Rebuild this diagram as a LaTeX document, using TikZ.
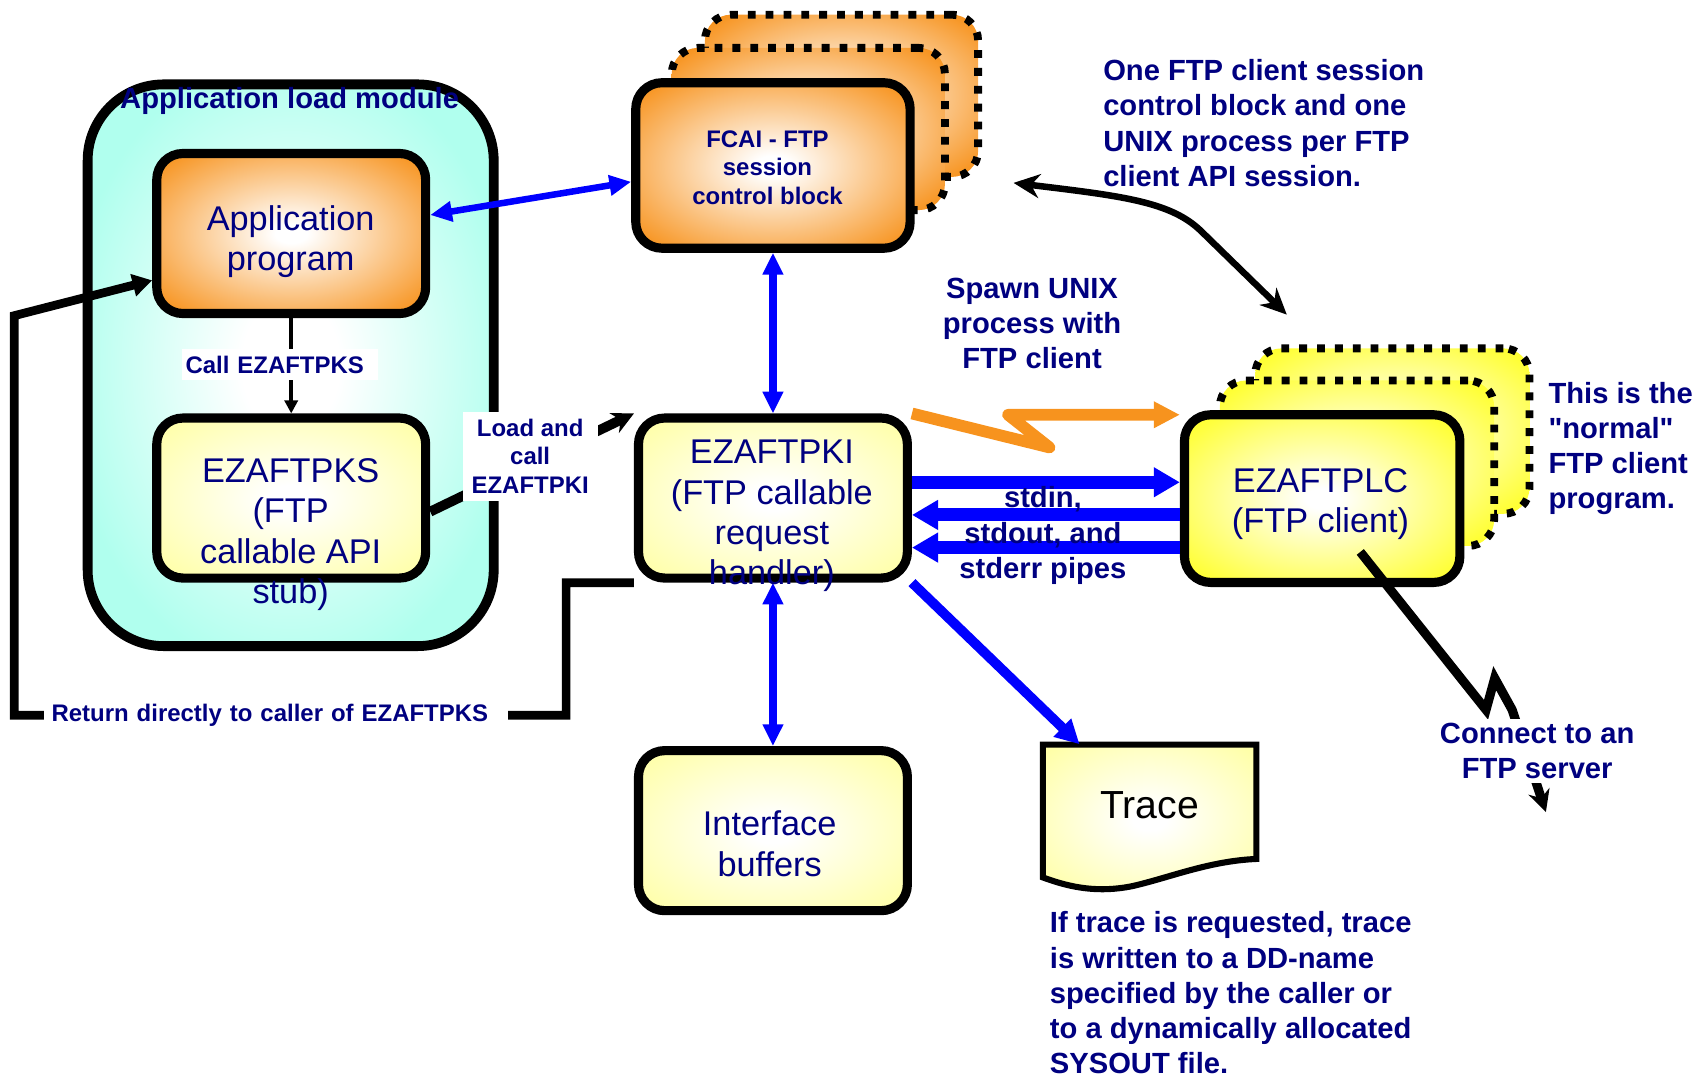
\documentclass[tikz,border=0pt]{standalone}
\usepackage{fontspec}
\setmainfont{Liberation Sans}[Ligatures=TeXOff]
\usetikzlibrary{arrows.meta,calc}
\definecolor{navy}{RGB}{0,0,128}
\definecolor{orgC}{RGB}{247,147,30}
\definecolor{aquaC}{RGB}{176,255,238}
\definecolor{lyelC}{RGB}{255,255,168}
\definecolor{byelC}{RGB}{255,255,51}
\pgfdeclareradialshading{orgshade}{\pgfpoint{0bp}{0bp}}{color(0bp)=(white); color(3bp)=(white); color(33bp)=(orgC); color(50bp)=(orgC)}
\pgfdeclareradialshading{aquashade}{\pgfpoint{0bp}{0bp}}{color(0bp)=(white); color(6bp)=(white); color(28bp)=(aquaC); color(50bp)=(aquaC)}
\pgfdeclareradialshading{lyshade}{\pgfpoint{0bp}{0bp}}{color(0bp)=(white); color(4bp)=(white); color(33bp)=(lyelC); color(50bp)=(lyelC)}
\pgfdeclareradialshading{byshade}{\pgfpoint{0bp}{0bp}}{color(0bp)=(white); color(3bp)=(white); color(32bp)=(byelC); color(50bp)=(byelC)}
\begin{document}
\begin{tikzpicture}[x=0.5pt,y=-0.5pt,
  box/.style={draw=black, line width=4.2pt, rounded corners=12pt, minimum width=123.5pt, minimum height=73.5pt, inner sep=0pt},
  ghost/.style={box, line width=3.6pt, dash pattern=on 3.6pt off 4.6pt},
  regtxt/.style={text=navy, font=\fontsize{15.75}{18.5}\selectfont, align=center, inner sep=0pt},
  bigbold/.style={text=navy, font=\bfseries\fontsize{13.4}{16.2}\selectfont, inner sep=0pt},
  smallbold/.style={text=navy, font=\bfseries\fontsize{11}{13}\selectfont},
  vblue/.style={draw=blue, line width=4pt, {Triangle[length=10pt,width=9pt]}-{Triangle[length=10pt,width=9pt]}},
  pipe/.style={draw=blue, line width=6pt, -{Triangle[length=12pt,width=13pt]}},
  blk/.style={draw=black, line width=4pt}
]
\useasboundingbox (0,0) rectangle (1568,989);

% ---- shapes ----
\node[draw=black, line width=4.5pt, rounded corners=35pt, minimum width=186.5pt, minimum height=258pt, inner sep=0pt, shading=aquashade] (module) at (267,335.5) {};
\node[box, shading=orgshade] (app) at (267.5,214.5) {};
\node[box, shading=lyshade] (pks) at (267.5,457.5) {};

\node[ghost, minimum width=125.5pt, minimum height=74.5pt, shading=orgshade] (fcai3) at (773,88) {};
\node[ghost, minimum width=125.5pt, minimum height=74.5pt, shading=orgshade] (fcai2) at (742.5,118.5) {};
\node[box, minimum width=126pt, minimum height=76pt, shading=orgshade] (fcai) at (710,152) {};

\node[box, shading=lyshade] (pki) at (710,457.5) {};
\node[box, shading=lyshade] (buf) at (710,763) {};

\node[ghost, minimum width=126pt, minimum height=76pt, shading=byshade] (plc3) at (1279,396) {};
\node[ghost, minimum width=126pt, minimum height=76pt, shading=byshade] (plc2) at (1246.5,425.5) {};
\node[box, minimum width=126.5pt, minimum height=77pt, shading=byshade] (plc) at (1214.5,458) {};

\node[minimum width=98pt, minimum height=62pt, inner sep=0pt] (trace) at (1056,746) {};
\path[draw=black, line width=2.8pt, shading=lyshade]
  (958,684) -- (1154,684) -- (1154,789)
  .. controls (1110,791) and (1075,806) .. (1040,814)
  .. controls (1010,820) and (985,816) .. (958,806) -- cycle;

% ---- connectors ----
\draw[draw=black, line width=1.8pt, -{Triangle[length=6pt,width=6pt]}] (app.south) -- (pks.north);
\draw[draw=blue, line width=3pt, {Triangle[length=10pt,width=9pt]}-{Triangle[length=10pt,width=9pt]}]
  ($(app.east)+(0,-17)$) -- ($(fcai.west)+(0,15)$);
\draw[vblue] (fcai.south) -- (pki.north);
\draw[vblue] (pki.south) -- (buf.north);
\draw[draw=blue, line width=4.5pt, -{Triangle[length=11pt,width=11pt]}] (pki.south east) -- ($(trace.north west)+(34,0)$);

\coordinate (p1) at ($(pki.east)+(0,-14.5)$);
\coordinate (p2) at ($(pki.east)+(0,15.5)$);
\coordinate (p3) at ($(pki.east)+(0,45.5)$);
\draw[pipe] (p1) -- (p1 -| plc.west);
\draw[pipe] (p2 -| plc.west) -- (p2);
\draw[pipe] (p3 -| plc.west) -- (p3);

\coordinate (zz1) at (964,411);
\coordinate (zz2) at (926,381);
\draw[draw=orgC, line width=5.4pt, line join=round, -{Triangle[length=12pt,width=11.5pt]}]
  (pki.north east) -- (zz1) -- (zz2) -- (zz2 -| plc.west);

\coordinate (c1) at (931,168);
\coordinate (c2) at (1182,289);
\draw[draw=black, line width=3pt, {Stealth[length=12pt,width=11pt]}-{Stealth[length=12pt,width=11pt]}]
  (c1) .. controls (1030,180) and (1075,185) .. (1103,212) -- (c2);

\coordinate (r2) at (520,657);
\coordinate (r3) at (13,657);
\coordinate (r4) at (13,290);
\draw[blk, -{Triangle[length=9pt,width=10pt]}] (pki.south west) -| (r2) -- (r3) -- (r4) -- ($(app.west)+(0,43)$);

\draw[draw=black, line width=4.5pt, -{Stealth[length=10pt,width=10pt]}] ($(pks.east)+(0,12.5)$) -- (pki.north west);

\coordinate (k0) at ($(plc.center)+(35,49)$);
\coordinate (k1) at (1365,652);
\coordinate (k2) at (1373,623);
\coordinate (k3) at (1389,652);
\coordinate (k4) at (1420,746);
\draw[draw=black, line width=4.2pt, -{Stealth[length=10pt,width=10pt]}] (k0) -- (k1) -- (k2) -- (k3) -- (k4);

% ---- texts ----
\node[bigbold] (tmodule) at (266,93) {Application load module};
\node[regtxt] (tapp) at (267,222) {Application\\program};
\node[regtxt] (tpks) at (267,491) {EZAFTPKS\\(FTP\\callable API\\stub)};
\node[smallbold, align=center, inner sep=0pt] (tfcai) at (705,154) {FCAI - FTP\\session\\control block};
\node[regtxt] (tpki) at (709,474) {EZAFTPKI\\(FTP callable\\request\\handler)};
\node[regtxt] (tbuf) at (707,775) {Interface\\buffers};
\node[regtxt] (tplc) at (1213,463) {EZAFTPLC\\(FTP client)};
\node[text=black, font=\fontsize{18}{21}\selectfont, inner sep=0pt] (ttrace) at (1056,740) {Trace};

\node[smallbold, fill=white, anchor=west, inner xsep=1.5pt, inner ysep=3pt, text width=87pt, align=left] (tcall) at (167,335) {Call EZAFTPKS};
\node[smallbold, fill=white, align=center, minimum width=62pt, minimum height=41pt, inner sep=0pt] (tload) at (487,419) {Load and\\call\\EZAFTPKI};
\node[smallbold, fill=white, anchor=west, inner xsep=3.5pt, inner ysep=2pt, text width=206pt, align=left] (tret) at (40,657) {Return directly to caller of EZAFTPKS};

\node[bigbold, align=center] (tspawn) at (948,297) {Spawn UNIX\\process with\\FTP client};
\node[bigbold, align=center] (tpipes) at (958,492) {stdin,\\stdout, and\\stderr pipes};
\node[bigbold, align=left, anchor=west] (tone) at (1013,113) {One FTP client session\\control block and one\\UNIX process per FTP\\client API session.};
\node[bigbold, align=left, anchor=west] (tthis) at (1422,412) {This is the\\"normal"\\FTP client\\program.};
\node[bigbold, align=center, fill=white, inner sep=2pt] (tconn) at (1412,690) {Connect to an\\FTP server};
\node[bigbold, align=left, anchor=west] (tif) at (964,912) {If trace is requested, trace\\is written to a DD-name\\specified by the caller or\\to a dynamically allocated\\SYSOUT file.};
\end{tikzpicture}
\end{document}
